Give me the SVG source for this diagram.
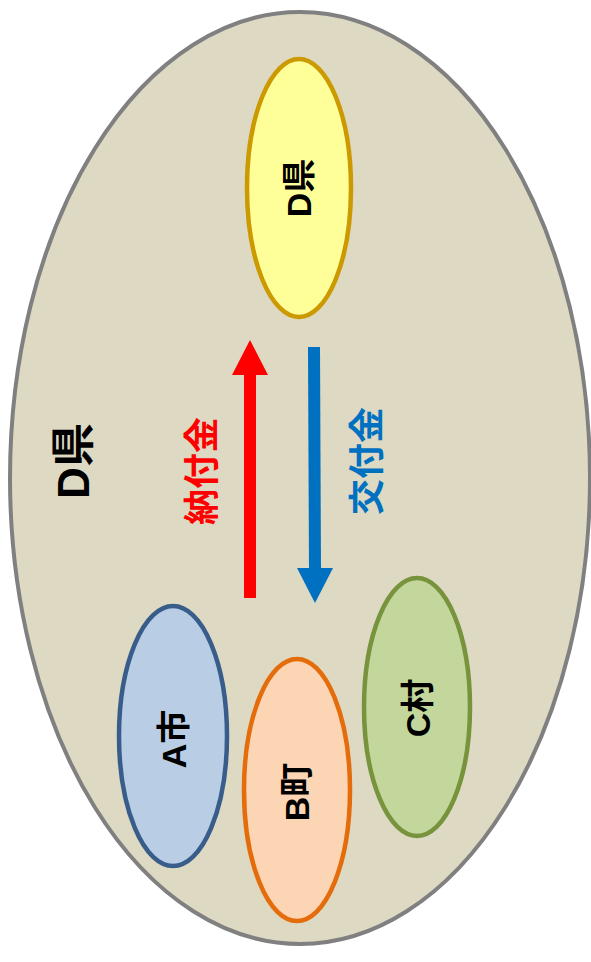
<svg xmlns="http://www.w3.org/2000/svg" width="591" height="962" viewBox="0 0 591 962">
<style>
text{font-family:"Liberation Sans","Noto Sans CJK JP",sans-serif;font-weight:bold;text-anchor:middle;dominant-baseline:central}
.node{stroke-width:4.5}
</style>
<rect width="591" height="962" fill="#ffffff"/>
<g id="outer">
<ellipse cx="300" cy="478" rx="290" ry="466" fill="#DDD9C3" stroke="#808080" stroke-width="4"/>
<text transform="translate(73,461) rotate(-90)" font-size="44" fill="#000">D県</text>
</g>
<g id="nodeD">
<ellipse class="node" cx="299" cy="188" rx="52" ry="129" fill="#FFFF99" stroke="#CC9900"/>
<text transform="translate(299,188) rotate(-90)" font-size="34" fill="#000">D県</text>
</g>
<g id="nodeA">
<ellipse class="node" cx="173" cy="736" rx="54" ry="130" fill="#B9CDE5" stroke="#385D8A"/>
<text transform="translate(174,739) rotate(-90)" font-size="34" fill="#000">A市</text>
</g>
<g id="nodeB">
<ellipse class="node" cx="297" cy="790" rx="53" ry="131" fill="#FCD5B5" stroke="#E46C0A"/>
<text transform="translate(297,792) rotate(-90)" font-size="34" fill="#000">B町</text>
</g>
<g id="nodeC">
<ellipse class="node" cx="417" cy="707" rx="53" ry="129" fill="#C3D69B" stroke="#77933C"/>
<text transform="translate(418,708) rotate(-90)" font-size="34" fill="#000">C村</text>
</g>
<g id="connectors">
<rect x="244" y="372" width="12" height="226" fill="#FF0000"/>
<polygon points="250,340 268,375 232,375" fill="#FF0000"/>
<text transform="translate(202,471) rotate(-90)" font-size="36" fill="#FF0000">納付金</text>
<polygon points="308,347 320,347 321,570 309,570" fill="#0070C0"/>
<polygon points="297,568 333,568 315,603" fill="#0070C0"/>
<text transform="translate(367,461) rotate(-90)" font-size="36" fill="#0070C0">交付金</text>
</g>
</svg>
